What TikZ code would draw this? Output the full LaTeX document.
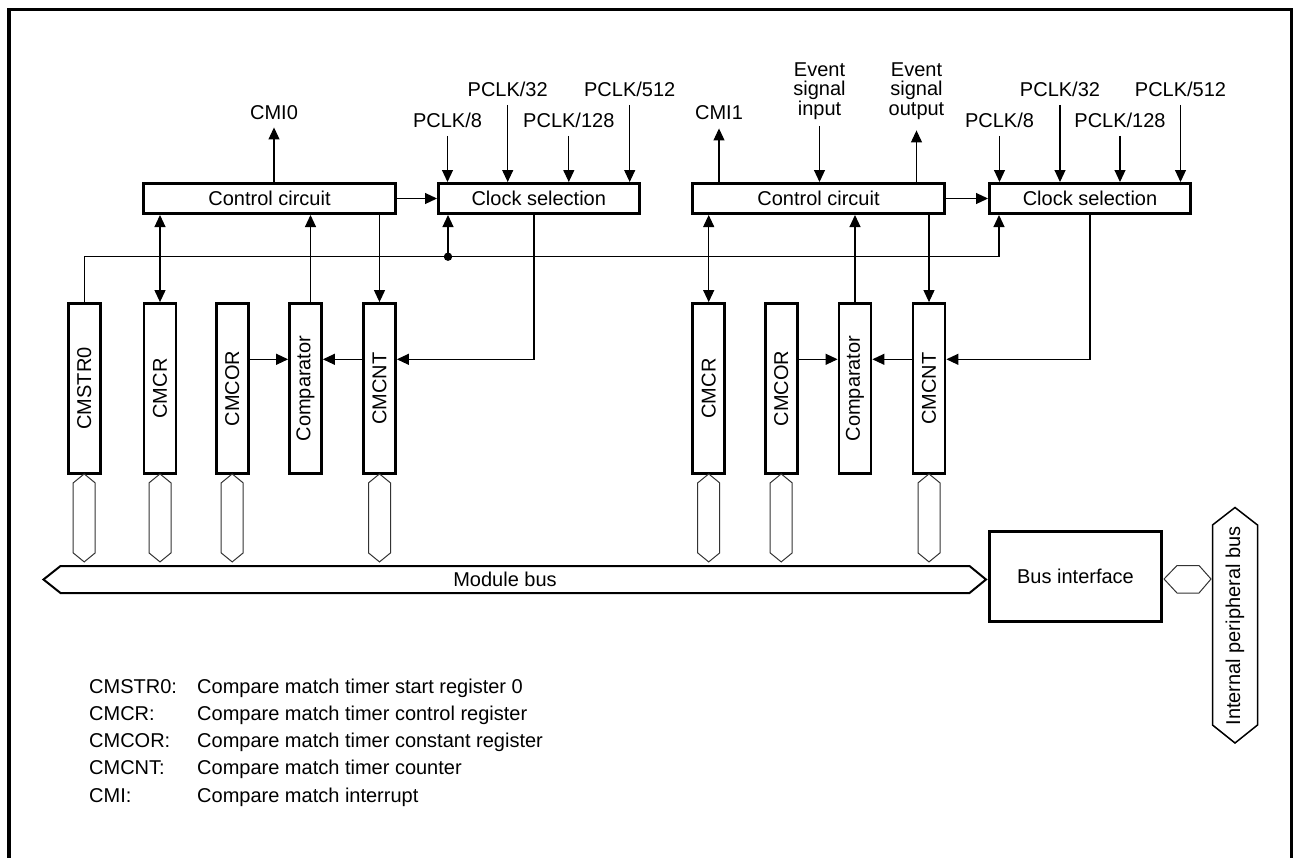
\documentclass[tikz,border=0pt]{standalone}
\usepackage{fontspec}
\setmainfont{Liberation Sans}
\usetikzlibrary{arrows.meta,calc}
\begin{document}
\begin{tikzpicture}[x=1pt,y=-1pt,
  font=\fontsize{20pt}{24pt}\selectfont,
  box/.style={draw, line width=3pt, inner sep=0pt, minimum height=30pt},
  reg/.style={draw, line width=2.8pt, inner sep=0pt, minimum width=32pt, minimum height=170pt},
  vtxt/.style={rotate=90, inner sep=0pt},
  lbl/.style={inner sep=0pt, text height=14.3pt, text depth=4.2pt},
  ev/.style={inner sep=0pt, align=center, font=\fontsize{20pt}{19.2pt}\selectfont},
  con/.style={line width=1.1pt},
  arr/.style={con, -{Triangle[length=12pt,width=11pt]}},
  darr/.style={con, {Triangle[length=12pt,width=11pt]}-{Triangle[length=12pt,width=11pt]}},
  hexc/.style={draw=black!80, line width=1pt},
  lgd/.style={anchor=base west, inner sep=0pt}
]
\useasboundingbox (0,0) rectangle (1293,857);
% frame
\draw[line width=3.3pt] (9,860) -- (9,9.7) -- (1291.3,9.7) -- (1291.3,860);

% ---------- boxes ----------
\node[box, minimum width=252pt] (cc1) at (269.5,198.5) {Control circuit};
\node[box, minimum width=200.5pt] (cs1) at (538.75,198.5) {Clock selection};
\node[box, minimum width=252pt] (cc2) at (818.5,198.5) {Control circuit};
\node[box, minimum width=201pt] (cs2) at (1090,198.5) {Clock selection};
\draw[arr] (cc1.east) -- (cs1.west);
\draw[arr] (cc2.east) -- (cs2.west);

% ---------- channel 0 ----------
\node[lbl] (cmi0) at (274,114) {CMI0};
\draw[arr, shorten >=4pt] (cmi0.south |- cc1.north) -- (cmi0.south);
\node[lbl] (p8a) at (447.5,122) {PCLK/8};
\node[lbl] (p32a) at (507.7,91) {PCLK/32};
\node[lbl] (p128a) at (568.8,122) {PCLK/128};
\node[lbl] (p512a) at (629.7,91) {PCLK/512};
\foreach \p in {p8a,p32a,p128a,p512a}
  \draw[arr, shorten <=4.3pt] (\p.south) -- (\p.south |- cs1.north);

\node[reg, label={[vtxt]center:CMSTR0}] (cmstr0) at (84.2,388.5) {};
\node[reg, label={[vtxt]center:CMCR}] (cmcr) at (160,388.5) {};
\node[reg, label={[vtxt]center:CMCOR}] (cmcor) at (232.2,388.5) {};
\node[reg, label={[vtxt]center:Comparator}] (comp) at (305.5,388.5) {};
\node[reg, label={[vtxt]center:CMCNT}] (cmcnt) at (379.5,388.5) {};

\coordinate (yl) at (0,359.3);
\coordinate (jn) at (448,256.7);
\coordinate (k2) at (999,256.7);
\coordinate (d1) at (534,0);

\draw[arr] (cmstr0.north) |- (k2) -- (k2 |- cs2.south);
\fill (jn) circle[radius=4.2pt];
\draw[arr] (jn) -- (jn |- cs1.south);
\draw[darr] (cmcr.north) -- (cmcr.north |- cc1.south);
\draw[arr] ([xshift=5pt]comp.north) -- ([xshift=5pt]comp.north |- cc1.south);
\draw[arr] (cmcnt.north |- cc1.south) -- (cmcnt.north);
\draw[arr] (cs1.south -| d1) |- (cmcnt.east |- yl);
\draw[arr] (cmcor.east |- yl) -- (comp.west |- yl);
\draw[arr] (cmcnt.west |- yl) -- (comp.east |- yl);

% ---------- channel 1 ----------
\node[lbl] (cmi1) at (719,114) {CMI1};
\draw[arr, shorten >=5pt] (cmi1.south |- cc2.north) -- (cmi1.south);
\node[ev, anchor=north] (evin) at (819.5,62.7) {Event\\signal\\input};
\node[ev, anchor=north] (evout) at (916.5,62.7) {Event\\signal\\output};
\draw[arr, shorten <=6.5pt] (evin.south) -- (evin.south |- cc2.north);
\draw[arr, shorten >=11pt] (evout.south |- cc2.north) -- (evout.south);

\node[lbl] (p8b) at (999.5,122) {PCLK/8};
\node[lbl] (p32b) at (1060,91) {PCLK/32};
\node[lbl] (p128b) at (1120,122) {PCLK/128};
\node[lbl] (p512b) at (1180.5,91) {PCLK/512};
\foreach \p in {p8b,p32b,p128b,p512b}
  \draw[arr, shorten <=4.3pt] (\p.south) -- (\p.south |- cs2.north);

\node[reg, label={[vtxt]center:CMCR}] (cmcr2) at (708.7,388.5) {};
\node[reg, label={[vtxt]center:CMCOR}] (cmcor2) at (781.2,388.5) {};
\node[reg, label={[vtxt]center:Comparator}] (comp2) at (855,388.5) {};
\node[reg, label={[vtxt]center:CMCNT}] (cmcnt2) at (929,388.5) {};

\draw[darr] (cmcr2.north) -- (cmcr2.north |- cc2.south);
\draw[arr] (comp2.north) -- (comp2.north |- cc2.south);
\draw[arr] (cmcnt2.north |- cc2.south) -- (cmcnt2.north);
\draw[arr] (cs2.south) |- (cmcnt2.east |- yl);
\draw[arr] (cmcor2.east |- yl) -- (comp2.west |- yl);
\draw[arr] (cmcnt2.west |- yl) -- (comp2.east |- yl);

% ---------- buses ----------
\foreach \r in {cmstr0,cmcr,cmcor,cmcnt,cmcr2,cmcor2,cmcnt2}
  \draw[hexc] ([yshift=1pt]\r.south) -- ++(11,9) -- ++(0,70) -- ++(-11,9) -- ++(-11,-9) -- ++(0,-70) -- cycle;

\draw[line width=2pt] (43.5,579.5) -- (60.5,566) -- (969.5,566) -- (986,579.5) -- (969.5,593) -- (60.5,593) -- cycle;
\node (mb) at (505,579.5) {Module bus};

\node[box, minimum width=172pt, minimum height=90pt] (bi) at (1075.5,576.5) {Bus interface};
\draw[hexc] (1164,579) -- (1177,565.5) -- (1199,565.5) -- (1211,579) -- (1199,593) -- (1177,593) -- cycle;
\draw[line width=1.5pt] (1235,507.5) -- (1257.5,525) -- (1257.5,725) -- (1235,743) -- (1212.5,725) -- (1212.5,525) -- cycle;
\node[rotate=90, inner sep=0pt] (ipb) at (1235,626) {Internal peripheral bus};

% ---------- legend ----------
\node[lgd] (la1) at (89,693) {CMSTR0:};
\node[lgd] (lb1) at (197,693) {Compare match timer start register 0};
\node[lgd] (la2) at (89,720.3) {CMCR:};
\node[lgd] (lb2) at (197,720.3) {Compare match timer control register};
\node[lgd] (la3) at (89,747.5) {CMCOR:};
\node[lgd] (lb3) at (197,747.5) {Compare match timer constant register};
\node[lgd] (la4) at (89,774.8) {CMCNT:};
\node[lgd] (lb4) at (197,774.8) {Compare match timer counter};
\node[lgd] (la5) at (89,802) {CMI:};
\node[lgd] (lb5) at (197,802) {Compare match interrupt};
\end{tikzpicture}
\end{document}
